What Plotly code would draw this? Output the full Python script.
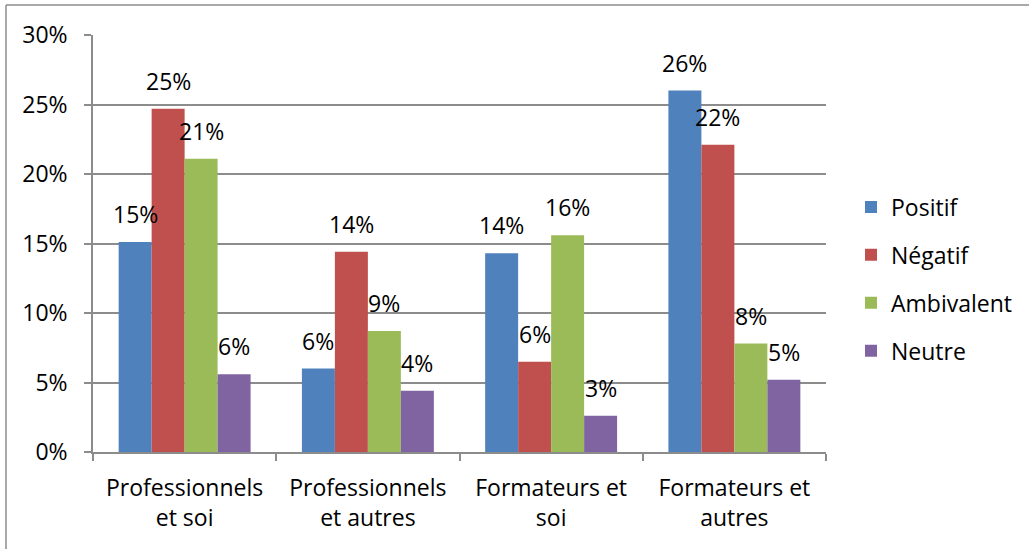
import plotly.graph_objects as go

categories = ["Professionnels<br>et soi", "Professionnels<br>et autres", "Formateurs et<br>soi", "Formateurs et<br>autres"]
series_names = ["Positif", "Négatif", "Ambivalent", "Neutre"]
positif = [15.1, 6.0, 14.3, 26.0]
negatif = [24.7, 14.4, 6.5, 22.1]
ambivalent = [21.1, 8.7, 15.6, 7.8]
neutre = [5.6, 4.4, 2.6, 5.2]
colors = ["#4F81BD", "#C0504D", "#9BBB59", "#8064A2"]
y_ticks = [0, 5, 10, 15, 20, 25, 30]
y_tick_labels = ["0%", "5%", "10%", "15%", "20%", "25%", "30%"]

W, H = 1029, 549
L, R, T, B = 93, 203, 35, 97
pw, ph = W - L - R, H - T - B
BARGAP = 0.28
bar_px = pw / len(categories) * (1 - BARGAP) / len(series_names)

FONT = "Open Sans"
FS = 23
fig = go.Figure()
all_vals = [positif, negatif, ambivalent, neutre]
for i, (name, vals) in enumerate(zip(series_names, all_vals)):
    fig.add_trace(go.Bar(
        x=categories, y=vals, name=name,
        marker=dict(color=colors[i], line=dict(width=0)),
        legendgroup=name,
    ))
    for c, v in zip(categories, vals):
        fig.add_annotation(x=c, y=v, text=f"{v:.0f}%", showarrow=False,
                           xanchor="center", yanchor="bottom",
                           xshift=(i - 1.5) * bar_px, yshift=10,
                           font=dict(family=FONT, size=FS, color="black"))

def px_x(p):
    return (p - L) / pw

def px_y(p):
    return (H - B - p) / ph

fig.add_shape(type="line", xref="paper", yref="paper",
              x0=px_x(6), x1=px_x(1040), y0=px_y(5), y1=px_y(5),
              line=dict(color="#8C8C8C", width=1.5))
fig.add_shape(type="line", xref="paper", yref="paper",
              x0=px_x(6), x1=px_x(6), y0=px_y(5), y1=px_y(560),
              line=dict(color="#8C8C8C", width=1.5))

fig.update_layout(
    width=W, height=H,
    margin=dict(l=L, r=R, t=T, b=B, autoexpand=False),
    paper_bgcolor="white", plot_bgcolor="white",
    font=dict(family=FONT, size=FS, color="black"),
    barmode="group", bargap=BARGAP, bargroupgap=0,
    showlegend=True,
    legend=dict(x=px_x(851), xanchor="left", y=px_y(279), yanchor="middle",
                font=dict(family=FONT, size=FS, color="black"),
                tracegroupgap=15, itemwidth=30),
    xaxis=dict(showline=True, linecolor="#8C8C8C", linewidth=1.5,
               ticks="outside", tickson="boundaries", ticklen=7, tickcolor="#8C8C8C",
               tickwidth=1.5, tickfont=dict(family=FONT, size=FS), showgrid=False,
               ticklabelstandoff=15),
    yaxis=dict(range=[0, 30], tickvals=y_ticks, ticktext=y_tick_labels,
               showline=True, linecolor="#8C8C8C", linewidth=1.5,
               ticks="outside", ticklen=7, tickcolor="#8C8C8C", tickwidth=1.5,
               ticklabelstandoff=12,
               showgrid=True, gridcolor="#8C8C8C", gridwidth=1.5,
               zeroline=False, tickfont=dict(family=FONT, size=FS)),
)

fig.write_html("out.html", config={"displayModeBar": False},
               post_script="document.body.style.margin='0';")
